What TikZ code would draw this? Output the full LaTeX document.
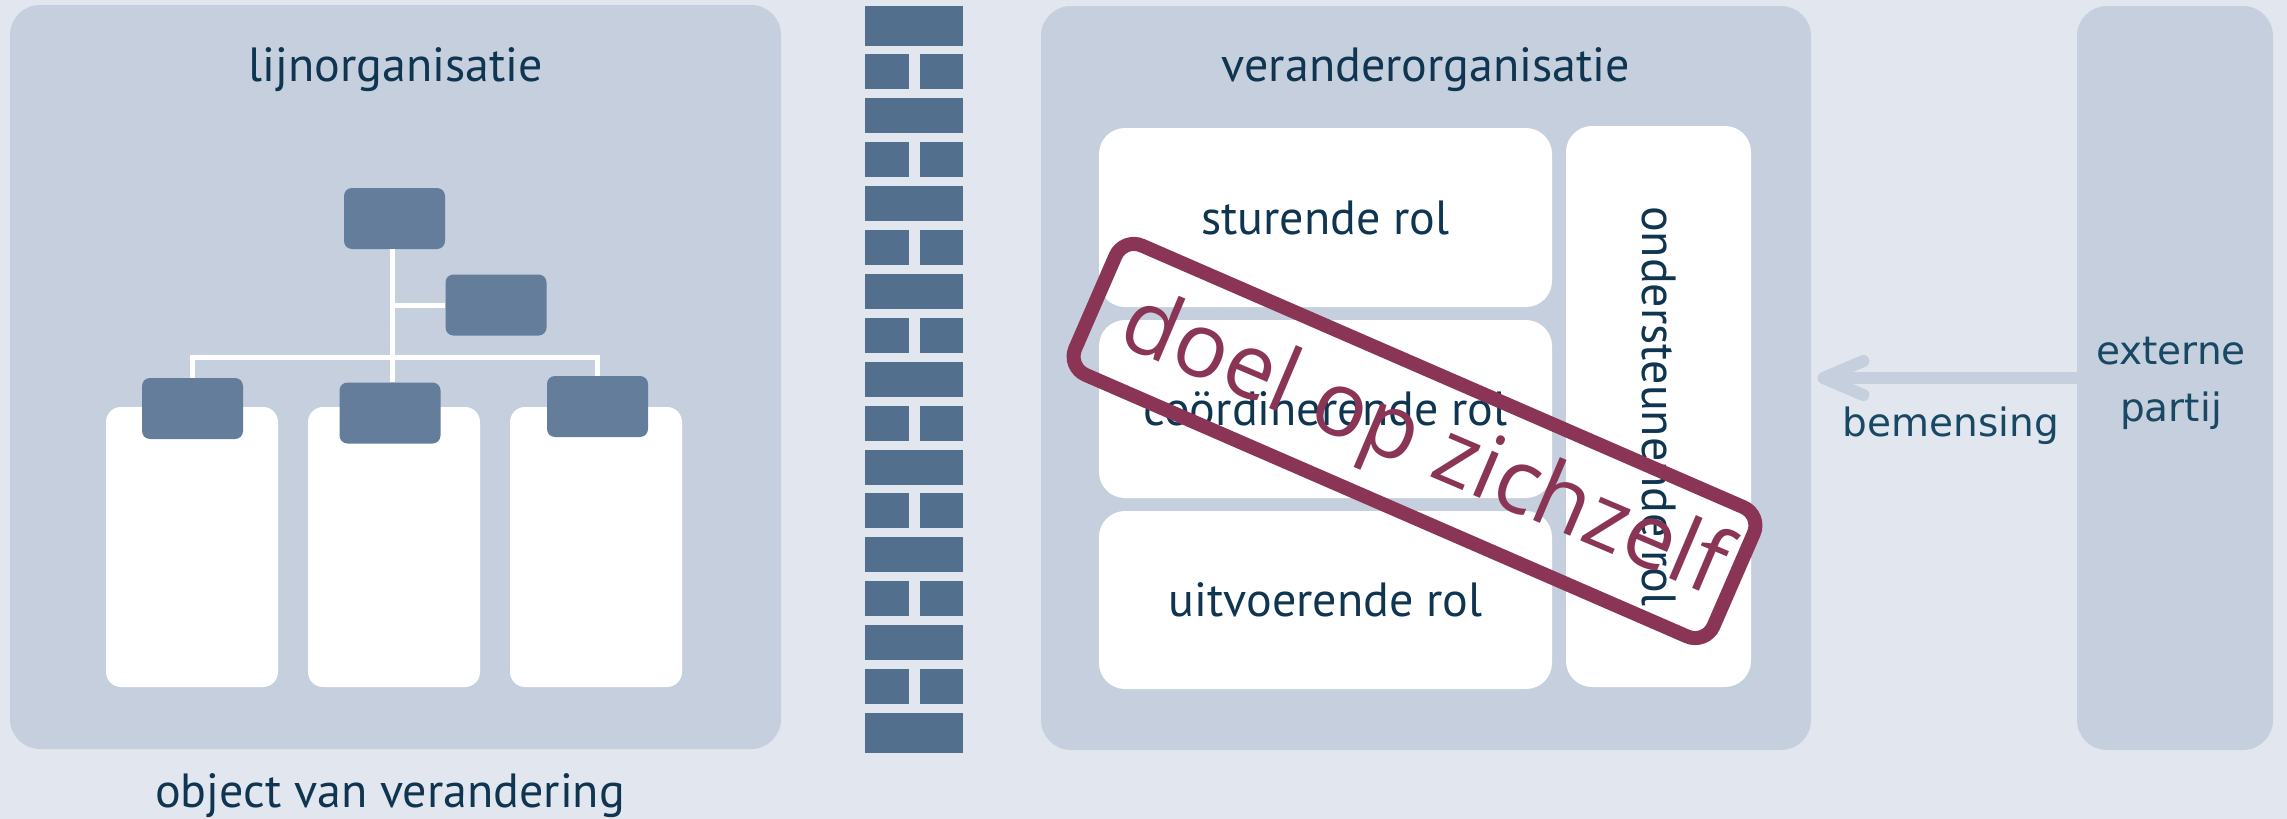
\documentclass[tikz,border=0pt]{standalone}
\usepackage{fontspec}
\setmainfont{PT Sans}
\newfontfamily\dejavu{DejaVu Sans}
\newfontfamily\opensans{Open Sans}
\usetikzlibrary{arrows.meta}

\definecolor{achter}{HTML}{E1E6EF}
\definecolor{vlak}{HTML}{C5CFDE}
\definecolor{blok}{HTML}{647D9B}
\definecolor{steen}{HTML}{526F8E}
\definecolor{inkt}{HTML}{0F3550}
\definecolor{inktlicht}{HTML}{184863}
\definecolor{rood}{HTML}{8A3555}

\tikzset{
  vlakbox/.style={fill=vlak, rounded corners=15pt, inner sep=0pt},
  witbox/.style={fill=white, rounded corners=13pt, inner sep=0pt, text=inkt,
    font=\fontsize{24}{28}\selectfont},
  kopbox/.style={fill=blok, rounded corners=4pt, minimum width=50.5pt,
    minimum height=30.5pt, inner sep=0pt},
  afdbox/.style={fill=white, rounded corners=7.5pt, minimum width=86pt,
    minimum height=140pt, inner sep=0pt},
  tekst/.style={text=inkt, font=\fontsize{24}{28}\selectfont, inner sep=0pt},
  titel/.style={tekst, anchor=base},
  extekst/.style={text=inktlicht, font=\dejavu\fontsize{19.5}{28.5}\selectfont, inner sep=0pt},
  lijntje/.style={draw=white, line width=2.5pt},
  stempelbox/.style={draw=rood, line width=7pt, rounded corners=10pt},
  stempeltekst/.style={text=rood, inner sep=0pt, font=\opensans\fontsize{45}{50}\selectfont},
  pijl/.style={draw=vlak, line width=6pt, line cap=round,
    -{Straight Barb[length=20pt, width=17pt, round]}},
}

\begin{document}
\begin{tikzpicture}[x=0.5pt, y=-0.5pt]
  \fill[achter] (0,0) rectangle (2287,819);
  \useasboundingbox (0,0) rectangle (2287,819);

  % vlakken
  \node[vlakbox, minimum width=385.5pt, minimum height=372pt] (lijn) at (395.5,377) {};
  \node[vlakbox, minimum width=385pt, minimum height=372pt] (verander) at (1426,378) {};
  \node[vlakbox, minimum width=98pt, minimum height=372pt] (extern) at (2175,378) {};

  \node[titel] (lijnkop) at (396,81) {lijnorganisatie};
  \node[titel] (veranderkop) at (1426,81) {veranderorganisatie};
  \node[titel] (object) at (390,807) {object van verandering};

  % lijnorganisatie
  \foreach \n/\ax/\kx/\ky in {1/192/192.5/408.5, 2/394/390/413, 3/596/597.5/406.5} {
    \node[afdbox] (afd\n) at (\ax,547) {};
    \node[kopbox] (kop\n) at (\kx,\ky) {};
  }
  \node[kopbox] (chef) at (394.5,218.5) {};
  \node[kopbox] (staf) at (496,305) {};
  \coordinate (tak) at (392,357);

  \draw[lijntje] (tak |- chef.south) -- (tak |- kop2.north);
  \draw[lijntje] (tak |- staf) -- (staf.west);
  \draw[lijntje] (kop1.north) |- (tak) -| (kop3.north);

  % muur
  \foreach \r in {0,...,16} {
    \pgfmathsetmacro\yo{\r==0 ? 6 : 10.5+43.9*\r}
    \pgfmathsetmacro\yu{\r==16 ? 752.5 : 45.5+43.9*\r}
    \ifodd\r
      \fill[steen] (865,\yo) rectangle (909,\yu);
      \fill[steen] (920,\yo) rectangle (963,\yu);
    \else
      \fill[steen] (865,\yo) rectangle (963,\yu);
    \fi
  }

  % veranderorganisatie
  \node[witbox, minimum width=226.5pt, minimum height=89.5pt] (sturend) at (1325.5,217.5) {sturende rol};
  \node[witbox, minimum width=226.5pt, minimum height=89pt] (coord) at (1325.5,409) {coördinerende rol};
  \node[witbox, minimum width=226.5pt, minimum height=89pt] (uitvoer) at (1325.5,600) {uitvoerende rol};
  \node[witbox, minimum width=92.5pt, minimum height=280.5pt] (onder) at (1658.5,406.5) {};
  \node[tekst, rotate=-90] (onderlabel) at (onder) {ondersteunende rol};

  \node[stempelbox, rotate=-23.5, minimum width=348pt, minimum height=70.5pt] (doel) at (1414.5,441) {};
  \node[stempeltekst, rotate=-23] (doeltekst) at (1423,448) {doel op zichzelf};

  % extern
  \draw[pijl, shorten >=3pt] (extern.west) -- (verander.east);
  \node[extekst, anchor=base] (bemensing) at (1951,436) {bemensing};
  \node[extekst, align=center] (externlabel) at (2171,383) {externe\\partij};
\end{tikzpicture}
\end{document}
